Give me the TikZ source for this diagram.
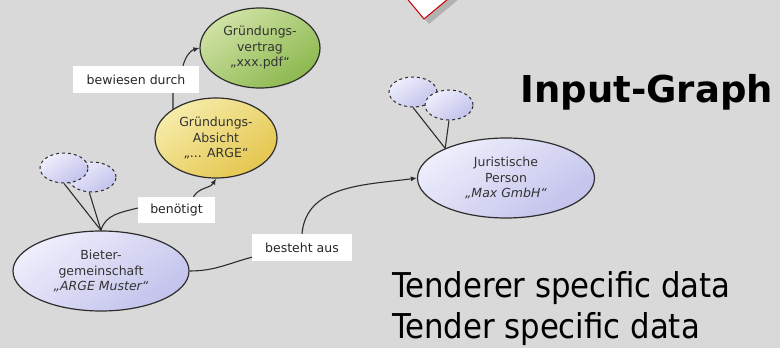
\documentclass[tikz,border=0pt]{standalone}
\usepackage{fontspec}
\setmainfont{DejaVu Sans}
\newfontfamily\condfont{DejaVu Sans Condensed}
\usetikzlibrary{shapes.geometric,arrows.meta}
\definecolor{bggray}{RGB}{217,217,217}
\definecolor{linegray}{RGB}{45,45,45}
\definecolor{greenA}{RGB}{208,226,165}
\definecolor{greenB}{RGB}{140,184,78}
\definecolor{yellowA}{RGB}{246,236,170}
\definecolor{yellowB}{RGB}{228,198,78}
\definecolor{lilaA}{RGB}{238,238,252}
\definecolor{lilaB}{RGB}{194,194,236}
\definecolor{redline}{RGB}{200,0,0}

\tikzset{
  concept/.style={ellipse,draw=linegray,line width=1.2pt,inner sep=0pt,align=center,
    minimum height=80pt,font=\fontsize{12.5}{15.5}\selectfont,text=black!80},
  greenfill/.style={top color=greenA,bottom color=greenB,shading angle=35},
  yellowfill/.style={top color=yellowA,bottom color=yellowB,shading angle=35},
  lilafill/.style={top color=lilaA,bottom color=lilaB,shading angle=35},
  ghost/.style={ellipse,draw=linegray,dashed,line width=1pt,inner sep=0pt,
    minimum width=48pt,minimum height=30pt,lilafill},
  tag/.style={fill=white,inner sep=0pt,minimum height=27pt,text=black!85,
    font=\fontsize{12.5}{15}\selectfont},
  link/.style={draw=linegray,line width=1.1pt},
  tip/.style={-{Latex[length=6pt,width=5pt]}}
}

\begin{document}
\begin{tikzpicture}[x=1pt,y=-1pt]
\useasboundingbox (0,0) rectangle (780,348);
\fill[bggray] (0,0) rectangle (780,348);
\begin{scope}
\clip (0,0) rectangle (780,348);
\fill[gray!60] (429,24) -- (390.6,-22.2) -- (436.6,-60.6) -- (475,-14.4) -- cycle;
\filldraw[fill=white,draw=redline,line width=1pt] (424,19) -- (385.6,-27.2) -- (431.6,-65.6) -- (470,-19.4) -- cycle;
\end{scope}

\node[ghost] (bg2) at (92,177) {};
\node[ghost] (bg1) at (64,168) {};
\node[ghost] (jg1) at (413,92) {};
\node[ghost] (jg2) at (449,105) {};

\node[concept,greenfill,minimum width=120pt] (vertrag) at (260,48) {Gründungs-\\vertrag\\„xxx.pdf“};
\node[concept,yellowfill,minimum width=122pt] (absicht) at (216,138) {Gründungs-\\Absicht\\„... ARGE“};
\node[concept,lilafill,minimum width=176pt] (bieter) at (101,271) {Bieter-\\gemeinschaft\\\textit{„ARGE Muster“}};
\node[concept,lilafill,minimum width=177pt] (person) at (506,178) {Juristische\\Person\\\textit{„Max GmbH“}};

\node[tag,minimum width=126pt] (bewiesen) at (136,79.5) {bewiesen durch};
\node[tag,minimum width=77pt,minimum height=26pt] (benoetigt) at (176.5,210) {benötigt};
\node[tag,minimum width=100pt] (besteht) at (302,247.5) {besteht aus};

\path[link] (bg1.south) -- (bieter.north);
\path[link] (bg2.260) -- (bieter.north);
\path[link] (jg1.south) -- (person.154);
\path[link] (jg2.south) -- (person.154);

\path[link] (bieter.north) to[out=75,in=195] ([yshift=2pt]benoetigt.west);
\path[link,tip] ([xshift=17pt]benoetigt.north) to[out=60,in=240] (absicht.south);
\path[link] (absicht.146) -- ([xshift=37pt]bewiesen.south);
\path[link,tip] ([xshift=47pt]bewiesen.north) to[out=75,in=195] (vertrag.west);
\path[link] (bieter.east) to[out=0,in=195] ([yshift=4pt]besteht.south west);
\path[link,tip] (besteht.north) to[out=85,in=188] (person.west);

\node[anchor=base west,font=\fontsize{37}{44}\selectfont\bfseries] (title) at (517,102) {Input-Graph};
\node[anchor=base west,inner sep=0pt,font=\condfont\fontsize{34.2}{40}\selectfont] (tenderer) at (392,297) {Tenderer specific data};
\node[anchor=base west,inner sep=0pt,font=\condfont\fontsize{34.2}{40}\selectfont] (tender) at (392,338) {Tender specific data};
\end{tikzpicture}
\end{document}
